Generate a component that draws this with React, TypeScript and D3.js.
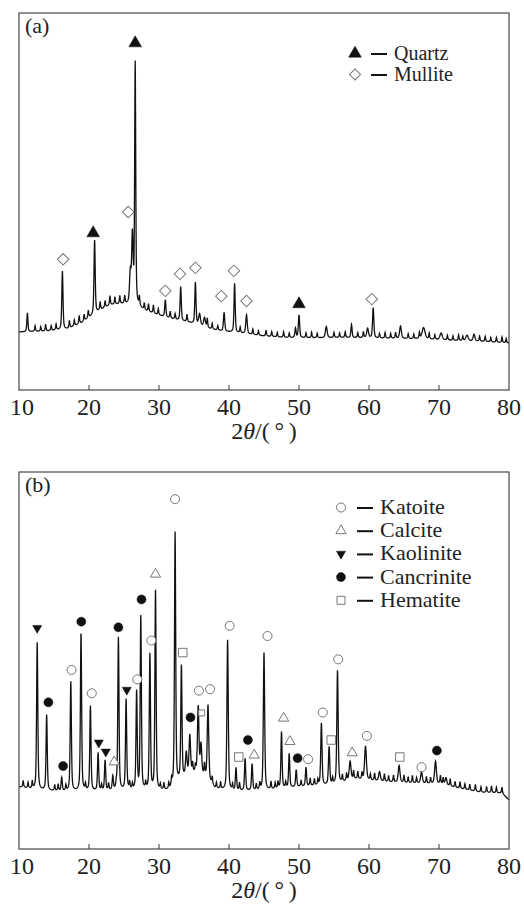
import React, { useEffect, useRef } from 'react';
import * as d3 from 'd3';

const xTicks = [10, 20, 30, 40, 50, 60, 70, 80];

// panel (a) – background [2θ, I], peaks [2θ, height, fwhm], small bumps [2θ, height]
const bgA = [[10, 15.4], [14, 15.6], [17, 16.2], [19, 17.8], [21, 20.5], [23, 22.5], [25, 22.8], [26.5, 22.5], [28, 21], [30, 19.8], [32, 18.8], [35, 17.6], [37, 16.3], [39, 15.6], [42, 15], [45, 14.3], [48, 13.9], [52, 13.8], [56, 13.9], [60, 13.8], [65, 13.6], [68, 13.5], [72, 13.1], [76, 12.9], [80, 12.4]];
const peaksA = [[11.2, 5, 0.18], [16.2, 15.5, 0.2], [20.8, 19.5, 0.2], [25.9, 8, 0.25], [26.2, 18, 0.25], [26.6, 64, 0.18], [30.9, 4.5, 0.2], [33.1, 9, 0.2], [35.2, 11, 0.2], [35.8, 3, 0.3], [36.5, 2.5, 0.3], [39.3, 5, 0.22], [40.8, 13, 0.2], [42.5, 5, 0.25], [49.5, 2.5, 0.2], [50.0, 6, 0.22], [53.9, 3, 0.3], [57.5, 3.5, 0.2], [59.8, 2.5, 0.3], [60.6, 8, 0.22], [64.5, 3.3, 0.3], [67.8, 3, 0.5], [70.3, 1.8, 0.4], [74.0, 1.5, 0.4], [75.0, 1.8, 0.3]];
const bumpsA = [[12.3, 1.5], [13.1, 1.2], [13.8, 1.8], [14.6, 1.3], [15.3, 1.5], [17.2, 2], [17.9, 1.6], [18.6, 2.2], [19.3, 1.8], [19.9, 2], [21.6, 2.2], [22.3, 1.8], [23.0, 2.4], [23.7, 2], [24.4, 2.2], [25.1, 2], [27.2, 2.5], [27.9, 1.8], [28.5, 2], [29.2, 2.2], [29.9, 1.6], [31.6, 1.8], [32.3, 1.5], [34.0, 2], [36.9, 2.5], [37.6, 1.5], [38.4, 1.2], [41.6, 1.5], [43.4, 1.4], [44.2, 1.2], [45.3, 1.6], [46.1, 1.3], [46.9, 1.2], [47.8, 1.5], [48.6, 1.2], [51.0, 1.3], [51.8, 1.5], [52.6, 1.2], [55.0, 1.4], [55.8, 1.2], [56.6, 1.5], [58.4, 1.3], [59.2, 1.6], [61.5, 1.2], [62.3, 1.5], [63.1, 1.3], [63.8, 1.6], [65.6, 1.3], [66.4, 1.2], [67.2, 1.6], [68.6, 1.5], [69.4, 1.2], [71.2, 1.3], [72.0, 1.2], [72.8, 1.5], [73.4, 1.2], [75.8, 1.3], [76.6, 1.4], [77.4, 1.2], [78.2, 1.3], [79.0, 1.5], [79.6, 1.2]];

const quartz = [[20.6, 41.6], [26.6, 92], [50.0, 22.8]];
const mullite = [[16.3, 34.7], [25.6, 47.2], [30.9, 26.3], [33.0, 30.8], [35.2, 32.4], [38.9, 24.9], [40.7, 31.6], [42.5, 23.6], [60.4, 24.1]];

// panel (b)
const bgB = [[10, 16.5], [12, 15.8], [15, 15.3], [20, 15.3], [25, 15.5], [30, 15.3], [31.5, 15.5], [33, 18], [34.5, 20], [36.5, 19], [38, 16], [40, 15.3], [45, 15.5], [50, 16.5], [55, 17], [58, 18.5], [61, 18], [65, 17.5], [70, 17.2], [73, 16], [76, 15], [79, 14.8], [80, 13]];
const peaksB = [[12.6, 39, 0.2], [13.95, 20, 0.2], [16.1, 3.5, 0.2], [17.4, 29, 0.2], [18.86, 42, 0.2], [20.2, 22.5, 0.2], [21.3, 10, 0.2], [22.3, 8, 0.2], [23.4, 3.6, 0.2], [24.2, 40.5, 0.2], [25.3, 24, 0.2], [26.8, 26, 0.2], [27.4, 46, 0.2], [28.7, 36, 0.2], [29.5, 53, 0.2], [32.3, 67, 0.2], [33.2, 30, 0.2], [33.9, 6, 0.25], [34.4, 10, 0.25], [35.6, 18, 0.25], [36.0, 8, 0.25], [37.0, 20, 0.25], [39.8, 40, 0.22], [41.0, 6, 0.2], [42.3, 8.5, 0.2], [43.3, 7, 0.2], [45.0, 36.5, 0.22], [47.5, 15, 0.2], [48.6, 9, 0.2], [49.6, 4.5, 0.2], [51.0, 5, 0.2], [53.2, 16.5, 0.22], [54.3, 10, 0.22], [55.5, 30, 0.22], [57.3, 5, 0.3], [59.5, 9, 0.3], [61.5, 2.5, 0.3], [64.3, 4.5, 0.3], [67.5, 3, 0.3], [69.5, 6, 0.3], [71.0, 2, 0.3]];
const bumpsB = [[10.6, 1.8], [11.3, 1.5], [11.9, 2], [15.1, 1.6], [15.6, 1.8], [16.7, 1.5], [19.5, 1.6], [21.8, 1.5], [22.8, 1.8], [23.9, 1.5], [25.8, 2], [26.2, 1.5], [28.1, 1.8], [30.2, 1.4], [30.7, 1.8], [31.4, 1.6], [31.8, 2], [34.8, 2.5], [35.2, 2], [36.5, 3], [37.6, 2], [38.2, 1.5], [38.8, 1.8], [40.5, 1.5], [41.5, 2], [43.9, 1.6], [44.4, 1.8], [46.0, 2], [46.6, 1.6], [47.0, 1.8], [48.1, 1.5], [50.3, 1.6], [51.6, 2], [52.2, 1.8], [52.7, 1.5], [54.8, 1.6], [56.2, 1.8], [56.8, 2], [57.8, 2.2], [58.4, 2], [59.0, 1.8], [60.2, 1.6], [60.8, 2], [62.2, 2], [62.8, 1.6], [63.5, 1.8], [65.0, 2], [65.6, 1.6], [66.2, 2], [66.8, 1.5], [68.2, 1.8], [68.8, 1.6], [70.2, 2.2], [70.6, 1.8], [71.6, 2], [72.3, 1.6], [73.0, 1.8], [73.7, 1.5], [74.4, 1.6], [75.2, 1.8], [76.0, 1.5], [76.8, 1.6], [77.5, 1.8], [78.2, 1.5], [79.0, 1.6]];

const katoite = [[17.5, 47.5], [20.4, 41.3], [26.9, 45], [28.9, 55.3], [32.3, 92.8], [35.7, 42], [37.3, 42.4], [40.1, 59.2], [45.5, 56.5], [51.3, 23.8], [53.4, 36.2], [55.6, 50.3], [59.7, 30], [67.5, 21.7]];
const calcite = [[23.6, 23.1], [29.5, 72.9], [43.6, 24.9], [47.8, 34.7], [48.7, 28.5], [57.6, 25.5]];
const kaolinite = [[12.6, 58.6], [21.4, 28.2], [22.4, 25.8], [25.4, 42.2]];
const cancrinite = [[14.2, 38.9], [16.3, 22], [18.9, 60.3], [24.2, 58.8], [27.5, 66.2], [34.5, 34.9], [42.7, 28.9], [49.8, 24.1], [69.7, 26.1]];
const hematite = [[33.4, 52.1], [41.4, 24.4], [54.6, 28.9], [64.4, 24.4]];
const hematiteSmall = [[36.1, 36.1]];

const legendA = ['Quartz', 'Mullite'];
const legendB = ['Katoite', 'Calcite', 'Kaolinite', 'Cancrinite', 'Hematite'];

const W = 524;
const H = 904;
const left = 19;
const right = 509;
const serif = "'Liberation Serif', 'Times New Roman', serif";

export default function App() {
  const svgRef = useRef<SVGSVGElement>(null);

  useEffect(() => {
    const svg = d3.select(svgRef.current);
    svg.selectAll('*').remove();

    const x = d3.scaleLinear().domain([10, 80]).range([left, right]);

    const profile = (bg: number[][], peaks: number[][], bumps: number[][]) => {
      const bgScale = d3.scaleLinear().domain(bg.map(d => d[0])).range(bg.map(d => d[1]));
      return d3.range(10, 80.0001, 0.025).map(t => {
        let v = bgScale(t);
        peaks.forEach(([p, h, w]) => {
          const u = (t - p) / w;
          v += h * (0.5 / (1 + 4 * u * u) + 0.5 * Math.exp(-4 * Math.LN2 * u * u));
        });
        bumps.forEach(([p, h]) => {
          const u = (t - p) / 0.14;
          v += h / (1 + 4 * u * u);
        });
        return [t, v];
      });
    };

    const drawPanel = (top: number, bottom: number, label: string, bg, peaks, bumps) => {
      const y = d3.scaleLinear().domain([0, 100]).range([bottom, top]);
      const g = svg.append('g');

      g.append('path')
        .datum(profile(bg, peaks, bumps))
        .attr('d', d3.line<number[]>().x(d => x(d[0])).y(d => y(d[1])))
        .attr('fill', 'none')
        .attr('stroke', '#111')
        .attr('stroke-width', 1.3);

      g.append('rect')
        .attr('x', left).attr('y', top)
        .attr('width', right - left).attr('height', bottom - top)
        .attr('fill', 'none').attr('stroke', '#555').attr('stroke-width', 1.3);

      g.selectAll('.tick')
        .data(xTicks.slice(1, -1))
        .enter().append('line')
        .attr('x1', d => x(d)).attr('x2', d => x(d))
        .attr('y1', bottom).attr('y2', bottom - 5)
        .attr('stroke', '#555').attr('stroke-width', 1.2);

      g.selectAll('.ticklabel')
        .data(xTicks)
        .enter().append('text')
        .attr('x', d => x(d) + (d === 10 ? 3 : 0))
        .attr('y', bottom + 25)
        .attr('text-anchor', 'middle')
        .style('font-family', serif).style('font-size', '24px')
        .attr('fill', '#222')
        .text(d => d);

      const title = g.append('text')
        .attr('x', x(45)).attr('y', bottom + 49)
        .attr('text-anchor', 'middle')
        .style('font-family', serif).style('font-size', '24px')
        .attr('fill', '#222');
      title.append('tspan').text('2');
      title.append('tspan').attr('font-style', 'italic').text('θ');
      title.append('tspan').text('/(\u2009°\u2009)');

      g.append('text')
        .attr('x', 25).attr('y', top + 20)
        .style('font-family', serif).style('font-size', '22px')
        .attr('fill', '#222')
        .text(label);

      return y;
    };

    const sym = (type, size) => d3.symbol().type(type).size(size)();

    const drawMarkers = (y, data, type, size, filled, rotate = 0) => {
      svg.append('g').selectAll('path')
        .data(data)
        .enter().append('path')
        .attr('d', sym(type, size))
        .attr('transform', d => `translate(${x(d[0])},${y(d[1])}) rotate(${rotate})`)
        .attr('fill', filled ? '#111' : '#fff')
        .attr('stroke', filled ? '#111' : '#777')
        .attr('stroke-width', filled ? 0.5 : 1);
    };

    // panel (a)
    const yA = drawPanel(13, 390, '(a)', bgA, peaksA, bumpsA);
    drawMarkers(yA, quartz, d3.symbolTriangle, 70, true);
    drawMarkers(yA, mullite, d3.symbolSquare, 66, false, 45);

    // panel (b)
    const yB = drawPanel(472, 849, '(b)', bgB, peaksB, bumpsB);
    drawMarkers(yB, katoite, d3.symbolCircle, 64, false);
    drawMarkers(yB, calcite, d3.symbolTriangle, 45, false);
    drawMarkers(yB, kaolinite, d3.symbolTriangle, 36, true, 180);
    drawMarkers(yB, cancrinite, d3.symbolCircle, 64, true);
    drawMarkers(yB, hematite, d3.symbolSquare, 72, false);
    drawMarkers(yB, hematiteSmall, d3.symbolSquare, 36, false);

    // legends
    const legend = (names: string[], x0: number, y0: number, step: number, fs: number, marks) => {
      const lg = svg.append('g');
      names.forEach((name, i) => {
        const cy = y0 + i * step;
        const [type, size, filled, rot] = marks[i];
        lg.append('path')
          .attr('d', sym(type, size))
          .attr('transform', `translate(${x0},${cy}) rotate(${rot})`)
          .attr('fill', filled ? '#111' : '#fff')
          .attr('stroke', filled ? '#111' : '#777')
          .attr('stroke-width', filled ? 0.5 : 1);
        lg.append('line')
          .attr('x1', x0 + 16).attr('x2', x0 + 32)
          .attr('y1', cy + 0.5).attr('y2', cy + 0.5)
          .attr('stroke', '#111').attr('stroke-width', 2);
        lg.append('text')
          .attr('x', x0 + 39).attr('y', cy + 6.5)
          .style('font-family', serif).style('font-size', `${fs}px`)
          .attr('fill', '#222')
          .text(name);
      });
    };

    legend(legendA, 355, 53.5, 21, 20, [
      [d3.symbolTriangle, 70, true, 0],
      [d3.symbolSquare, 60, false, 45]
    ]);
    legend(legendB, 341, 507.5, 23.2, 22, [
      [d3.symbolCircle, 64, false, 0],
      [d3.symbolTriangle, 45, false, 0],
      [d3.symbolTriangle, 36, true, 180],
      [d3.symbolCircle, 64, true, 0],
      [d3.symbolSquare, 64, false, 0]
    ]);
  }, []);

  return (
    <svg ref={svgRef} width={W} height={H}
      style={{ position: 'absolute', left: 0, top: 0, background: '#fff' }} />
  );
}
